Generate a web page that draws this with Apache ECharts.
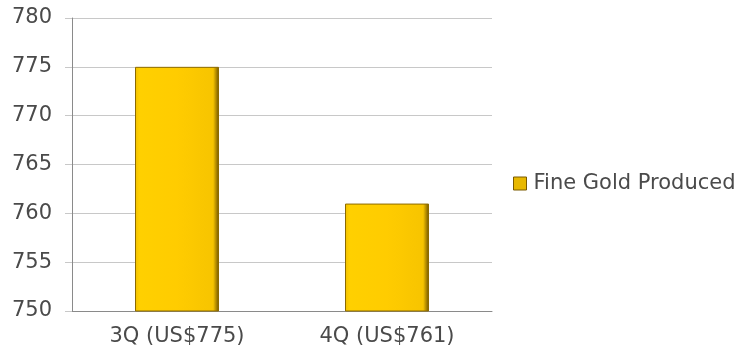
<!DOCTYPE html>
<html><head><meta charset="utf-8">
<script src="https://cdn.jsdelivr.net/npm/echarts@6/dist/echarts.min.js"></script>
<style>html,body{margin:0;padding:0;background:#fff}#c{width:749px;height:356px}</style>
</head><body><div id="c"></div>
<script>
const categories = ['3Q (US$775)', '4Q (US$761)'];
const seriesName = 'Fine Gold Produced';
const values = [775, 761];
const yMin = 750, yMax = 780, yStep = 5;

const chart = echarts.init(document.getElementById('c'));
const barColor = new echarts.graphic.LinearGradient(0, 0, 1, 0, [
  {offset: 0, color: '#F0BF00'},
  {offset: 0.05, color: '#FFD000'},
  {offset: 0.5, color: '#FFCC00'},
  {offset: 0.93, color: '#F7C400'},
  {offset: 1, color: '#6E5200'}
]);
const font = 'DejaVu Sans, sans-serif';
chart.setOption({
  animation: false,
  grid: {left: 72, right: 257, top: 18, bottom: 45},
  legend: {
    data: [{name: seriesName, icon: 'rect'}], left: 508, top: 168, orient: 'vertical',
    itemWidth: 13, itemHeight: 13, itemGap: 6,
    itemStyle: {color: '#E8B800', borderColor: '#7A5A00', borderWidth: 1},
    textStyle: {fontFamily: font, fontSize: 21, color: '#4a4a4a', padding: [0, 0, 0, 2]}
  },
  xAxis: {
    type: 'category', data: categories,
    axisLine: {lineStyle: {color: '#8a8a8a'}},
    axisTick: {show: false},
    axisLabel: {fontFamily: font, fontSize: 21, color: '#4a4a4a', margin: 15}
  },
  yAxis: {
    type: 'value', min: yMin, max: yMax, interval: yStep,
    axisLine: {show: true, lineStyle: {color: '#8a8a8a'}},
    axisTick: {show: true, length: 7, lineStyle: {color: '#c8c8c8'}},
    splitLine: {lineStyle: {color: '#c8c8c8'}},
    axisLabel: {fontFamily: font, fontSize: 21, color: '#4a4a4a', margin: 20}
  },
  series: [{
    name: seriesName, type: 'bar', data: values, barWidth: '40%',
    itemStyle: {color: barColor, borderColor: '#8C6A00', borderWidth: 1}
  }]
});
</script></body></html>
